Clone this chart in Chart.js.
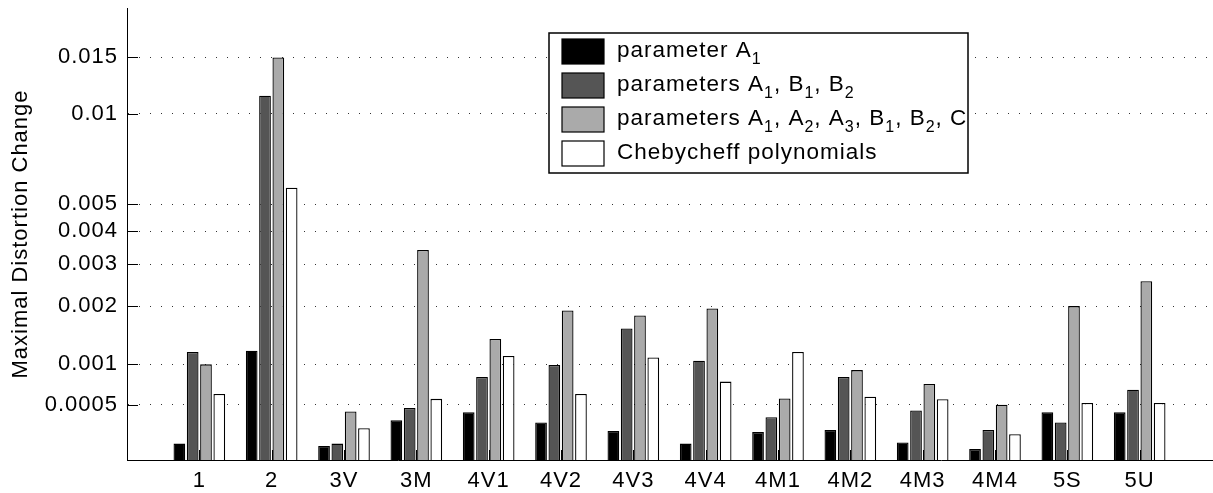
<!DOCTYPE html>
<html>
<head>
<meta charset="utf-8">
<title>Maximal Distortion Change</title>
<script src="https://cdn.jsdelivr.net/npm/chart.js@4.4.1/dist/chart.umd.min.js"></script>
<style>
  html, body { margin: 0; padding: 0; background: #fff; }
  #chart { display: block; }
</style>
</head>
<body>
<canvas id="chart" width="1213" height="493"></canvas>
<script>
const categories = ['1', '2', '3V', '3M', '4V1', '4V2', '4V3', '4V4', '4M1', '4M2', '4M3', '4M4', '5S', '5U'];

const paramA1 = [0.00013, 0.0012, 0.00011, 0.00034, 0.00042, 0.00032, 0.00024, 0.00013, 0.00023, 0.00025, 0.00014, 0.000085, 0.00042, 0.00042];
const paramsA1B1B2 = [0.00118, 0.0114, 0.00013, 0.000465, 0.00083, 0.00099, 0.00157, 0.00105, 0.00037, 0.00083, 0.00044, 0.00025, 0.00032, 0.00067];
const paramsAll = [0.001, 0.015, 0.00043, 0.0034, 0.00139, 0.00191, 0.00181, 0.00195, 0.00057, 0.00092, 0.00074, 0.0005, 0.002, 0.00256];
const chebycheff = [0.00062, 0.0057, 0.000265, 0.000565, 0.00112, 0.00062, 0.0011, 0.00077, 0.00118, 0.00059, 0.00056, 0.00021, 0.00052, 0.00052];

// legend text, "_x" means subscript x
const seriesLabels = [
  'parameter A_1',
  'parameters A_1, B_1, B_2',
  'parameters A_1, A_2, A_3, B_1, B_2, C',
  'Chebycheff polynomials'
];
const seriesColors = ['#000000', '#555555', '#aaaaaa', '#ffffff'];

const tickValues = [0.0005, 0.001, 0.002, 0.003, 0.004, 0.005, 0.01, 0.015];
const tickLabels = ['0.0005', '0.001', '0.002', '0.003', '0.004', '0.005', '0.01', '0.015'];

const yMax = 0.0212;
const OFFSET = 0.00114; // axis is log10(value + OFFSET)

const FONT = "'Liberation Sans', Arial, sans-serif";

class ShiftedLogScale extends Chart.LinearScale {
  buildTicks() {
    this.start = this.min;
    this.end = this.max;
    return tickValues.map(value => ({ value }));
  }
  configure() {
    super.configure();
    this._tMin = Math.log10(this.min + OFFSET);
    this._tRange = Math.log10(this.max + OFFSET) - this._tMin;
  }
  getPixelForValue(value) {
    return this.getPixelForDecimal((Math.log10(value + OFFSET) - this._tMin) / this._tRange);
  }
  getValueForPixel(pixel) {
    return Math.pow(10, this._tMin + this.getDecimalForPixel(pixel) * this._tRange) - OFFSET;
  }
}
ShiftedLogScale.id = 'shiftedLog';
ShiftedLogScale.defaults = {};
Chart.register(ShiftedLogScale);

// one empty slot each side, like xlim [0 15]
const pad = arr => [null, ...arr, null];
const xLabels = ['', ...categories, ''];

const spacing = {
  id: 'spacing',
  beforeLayout: (chart) => { chart.ctx.letterSpacing = '1px'; },
  beforeDraw: (chart) => { chart.ctx.letterSpacing = '1px'; }
};

// matlab style ticks pointing into the axes
const innerTicks = {
  id: 'innerTicks',
  beforeDatasetsDraw: (chart) => {
    const { ctx, chartArea, scales } = chart;
    ctx.save();
    ctx.strokeStyle = '#000';
    ctx.lineWidth = 1;
    ctx.beginPath();
    tickValues.forEach(v => {
      const y = Math.round(scales.y.getPixelForValue(v)) + 0.5;
      ctx.moveTo(chartArea.left, y);
      ctx.lineTo(chartArea.left + 11, y);
    });
    categories.forEach((c, i) => {
      const x = Math.round(scales.x.getPixelForValue(i + 1)) + 0.5;
      ctx.moveTo(x, chartArea.bottom);
      ctx.lineTo(x, chartArea.bottom - 10);
    });
    ctx.stroke();
    ctx.restore();
  }
};

const drawRich = (ctx, text, x, y) => {
  text.split(/(_\w)/).forEach(part => {
    if (!part) return;
    if (part[0] === '_') {
      ctx.font = `16px ${FONT}`;
      ctx.fillText(part[1], x, y + 7);
      x += ctx.measureText(part[1]).width;
    } else {
      ctx.font = `22.5px ${FONT}`;
      ctx.fillText(part, x, y);
      x += ctx.measureText(part).width;
    }
  });
};

const boxLegend = {
  id: 'boxLegend',
  afterDraw: (chart) => {
    const { ctx, chartArea } = chart;
    const left = chartArea.left + 422;
    const top = chartArea.top + 25;
    ctx.save();
    ctx.fillStyle = '#fff';
    ctx.fillRect(left, top, 419, 140);
    ctx.strokeStyle = '#000';
    ctx.lineWidth = 1.5;
    ctx.strokeRect(left, top, 419, 140);
    chart.data.datasets.forEach((ds, i) => {
      const base = top + 24 + i * 34;
      ctx.fillStyle = ds.backgroundColor;
      ctx.fillRect(left + 13, base - 18, 42, 25);
      ctx.lineWidth = 1.2;
      ctx.strokeRect(left + 13, base - 18, 42, 25);
      ctx.fillStyle = '#000';
      ctx.textBaseline = 'alphabetic';
      drawRich(ctx, ds.label, left + 68, base);
    });
    ctx.restore();
  }
};

const series = [paramA1, paramsA1B1B2, paramsAll, chebycheff];

new Chart(document.getElementById('chart'), {
  type: 'bar',
  data: {
    labels: xLabels,
    datasets: series.map((values, i) => ({
      label: seriesLabels[i],
      data: pad(values),
      backgroundColor: seriesColors[i],
      borderColor: '#000',
      borderWidth: 1.3,
      categoryPercentage: 0.736,
      barPercentage: 0.88
    }))
  },
  options: {
    responsive: false,
    animation: false,
    events: [],
    layout: { padding: { top: 8, right: 1, left: 0, bottom: 0 } },
    plugins: {
      legend: { display: false },
      tooltip: { enabled: false }
    },
    scales: {
      x: {
        type: 'category',
        offset: false,
        grid: { display: false, drawTicks: false },
        border: { display: true, color: '#000', width: 1 },
        ticks: {
          color: '#000',
          font: { family: FONT, size: 22 },
          padding: 8,
          autoSkip: false,
          maxRotation: 0
        },
        afterFit: (scale) => {
          scale.height = 33;
          scale.paddingLeft = 0;
          scale.paddingRight = 0;
        }
      },
      y: {
        type: 'shiftedLog',
        min: 0,
        max: yMax,
        grid: { color: '#333', lineWidth: 1, drawTicks: false },
        border: { display: true, color: '#000', width: 1, dash: [1, 10] },
        ticks: {
          color: '#000',
          font: { family: FONT, size: 22 },
          padding: 9,
          autoSkip: false,
          callback: (value) => tickLabels[tickValues.indexOf(value)]
        },
        title: {
          display: true,
          text: 'Maximal Distortion Change',
          color: '#000',
          font: { family: FONT, size: 22 },
          padding: { top: 8, bottom: 0 }
        },
        afterFit: (scale) => {
          scale.width = 127;
          scale.paddingTop = 0;
          scale.paddingBottom = 0;
        }
      }
    }
  },
  plugins: [spacing, innerTicks, boxLegend]
});
</script>
</body>
</html>
